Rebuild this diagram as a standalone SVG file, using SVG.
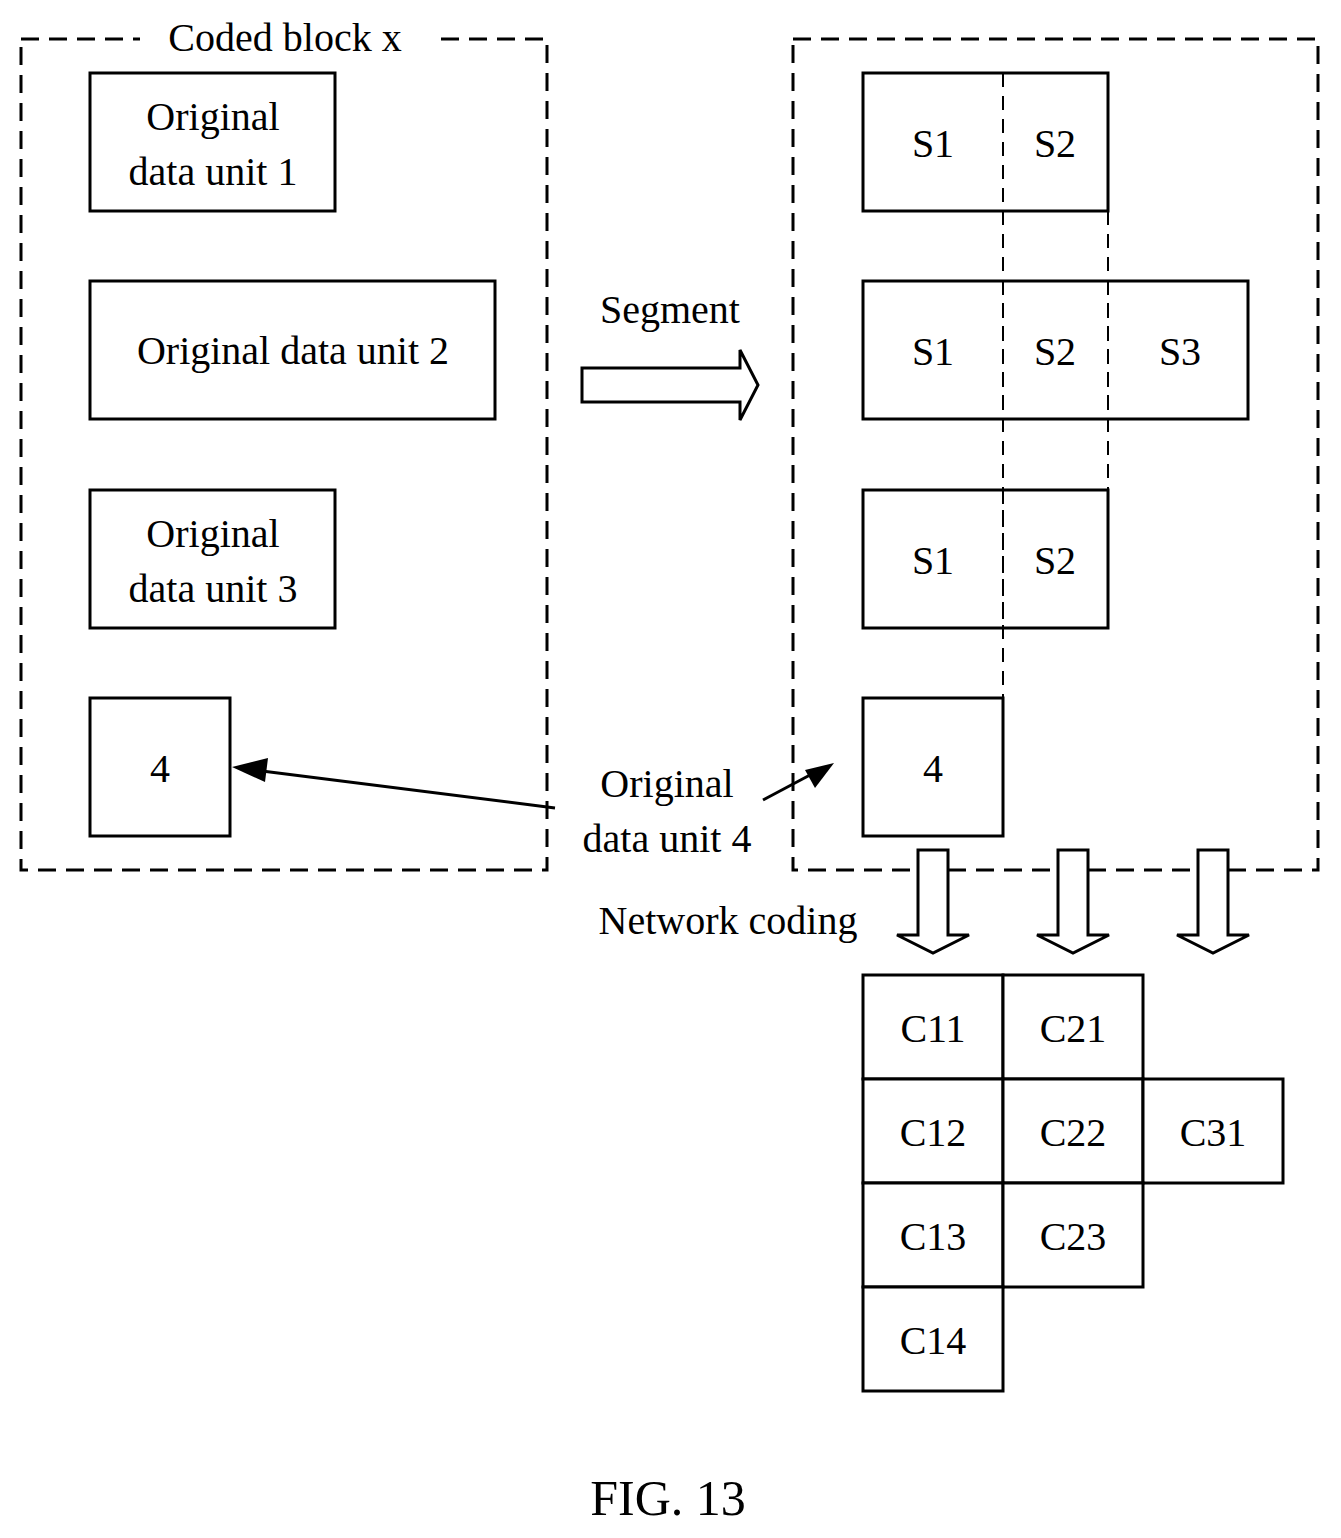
<svg xmlns="http://www.w3.org/2000/svg" width="1341" height="1538" viewBox="0 0 1341 1538">
<style>
.b{fill:#fff;stroke:#000;stroke-width:3}
.d{fill:none;stroke:#000;stroke-width:3;stroke-dasharray:18 10}
.dv{fill:none;stroke:#000;stroke-width:2;stroke-dasharray:14 9}
text{font-family:"Liberation Serif",serif;font-size:40px;text-anchor:middle;fill:#000}
.ln{stroke:#000;stroke-width:3;fill:none}
</style>
<defs><marker id="ah" markerWidth="10" markerHeight="8" refX="9" refY="4" orient="auto" markerUnits="userSpaceOnUse" viewBox="0 0 10 8"><path d="M0,0L10,4L0,8z"/></marker>
<marker id="ah2" viewBox="0 0 10 8" refX="9" refY="4" markerWidth="40" markerHeight="26" markerUnits="userSpaceOnUse" orient="auto"><path d="M0,0L10,4L0,8z"/></marker></defs>
<rect width="1341" height="1538" fill="#fff"/>
<g id="blockx"><rect class="d" x="21" y="39" width="526" height="831"/><rect x="140" y="20" width="300" height="36" fill="#fff"/><text x="285" y="51">Coded block x</text></g>
<g id="u1"><rect class="b" x="90" y="73" width="245" height="138"/><text x="213" y="130">Original</text><text x="213" y="185">data unit 1</text></g>
<g id="u2"><rect class="b" x="90" y="281" width="405" height="138"/><text x="293" y="364">Original data unit 2</text></g>
<g id="u3"><rect class="b" x="90" y="490" width="245" height="138"/><text x="213" y="547">Original</text><text x="213" y="602">data unit 3</text></g>
<g id="u4"><rect class="b" x="90" y="698" width="140" height="138"/><text x="160" y="782">4</text></g>
<g id="right"><rect class="d" x="793" y="39" width="525" height="831"/></g>
<g id="r1"><rect class="b" x="863" y="73" width="245" height="138"/><line class="dv" x1="1003" y1="73" x2="1003" y2="211"/><text x="933" y="157">S1</text><text x="1055" y="157">S2</text></g>
<g id="r2"><rect class="b" x="863" y="281" width="385" height="138"/><line class="dv" x1="1003" y1="281" x2="1003" y2="419"/><line class="dv" x1="1108" y1="281" x2="1108" y2="419"/><text x="933" y="365">S1</text><text x="1055" y="365">S2</text><text x="1180" y="365">S3</text></g>
<g id="r3"><rect class="b" x="863" y="490" width="245" height="138"/><line class="dv" x1="1003" y1="490" x2="1003" y2="628"/><text x="933" y="574">S1</text><text x="1055" y="574">S2</text></g>
<g id="r4"><rect class="b" x="863" y="698" width="140" height="138"/><text x="933" y="782">4</text></g>
<g id="grid">
<rect class="b" x="863" y="975" width="140" height="104"/><text x="933" y="1042">C11</text>
<rect class="b" x="1003" y="975" width="140" height="104"/><text x="1073" y="1042">C21</text>
<rect class="b" x="863" y="1079" width="140" height="104"/><text x="933" y="1146">C12</text>
<rect class="b" x="1003" y="1079" width="140" height="104"/><text x="1073" y="1146">C22</text>
<rect class="b" x="1143" y="1079" width="140" height="104"/><text x="1213" y="1146">C31</text>
<rect class="b" x="863" y="1183" width="140" height="104"/><text x="933" y="1250">C13</text>
<rect class="b" x="1003" y="1183" width="140" height="104"/><text x="1073" y="1250">C23</text>
<rect class="b" x="863" y="1287" width="140" height="104"/><text x="933" y="1354">C14</text>
</g>
<g id="connectors">
<line class="dv" x1="1003" y1="211" x2="1003" y2="698"/>
<line class="dv" x1="1108" y1="211" x2="1108" y2="490"/>
<path class="b" d="M582,368H740V350L758,385L740,420V402H582Z"/>
<text x="670" y="323">Segment</text>
<path class="ln" d="M555,808L262,771"/><path d="M232,767L268,758L265,782Z"/>
<path class="ln" d="M763,800L810,775"/><path d="M834,763L815,788L805,770Z"/>
<text x="667" y="797">Original</text><text x="667" y="852">data unit 4</text>
<text x="728" y="934">Network coding</text>
<path class="b" d="M918,850H948V935H969L933,953L897,935H918Z"/>
<path class="b" d="M1058,850H1088V935H1109L1073,953L1037,935H1058Z"/>
<path class="b" d="M1198,850H1228V935H1249L1213,953L1177,935H1198Z"/>
</g>
<text x="668" y="1515" style="font-size:50px">FIG. 13</text>
</svg>
